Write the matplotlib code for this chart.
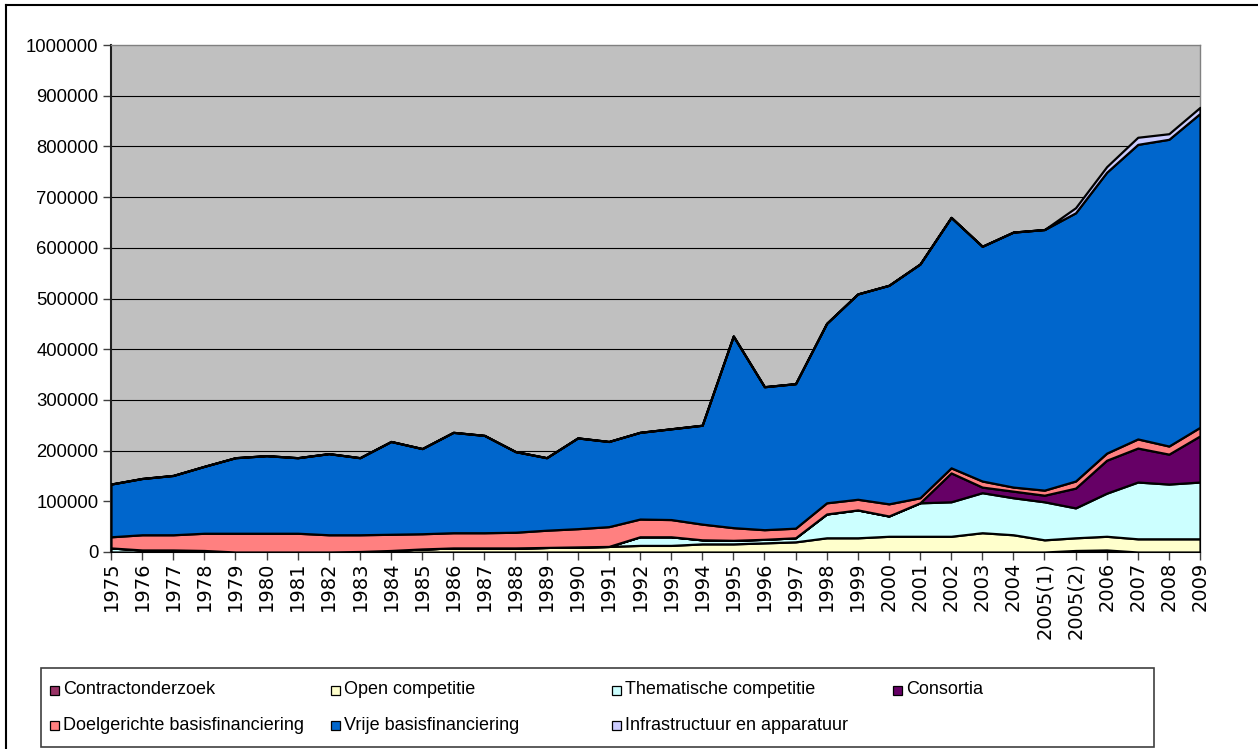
import matplotlib
matplotlib.use("Agg")
import matplotlib.pyplot as plt
from matplotlib.patches import Rectangle
from matplotlib.lines import Line2D
import numpy as np

categories = [str(y) for y in range(1975, 2005)] + ["2005(1)", "2005(2)", "2006", "2007", "2008", "2009"]

contract = [0, 0, 0, 0, 0, 0, 0, 0, 0, 0, 0, 0, 0, 0, 0, 0, 0, 0, 0, 0, 0, 0, 0, 0, 0, 0, 0, 0, 0, 0,
            0, 3000, 4000, 0, 0, 0]
open_comp = [0, 0, 0, 0, 0, 0, 0, 0, 1000, 3000, 6000, 8000, 8000, 8000, 9000, 10000, 11000, 13000, 13000, 16000,
             16000, 18000, 20000, 28000, 28000, 31000, 31000, 31000, 38000, 34000,
             24000, 25000, 27000, 26000, 26000, 26000]
thematisch = [8000, 4000, 4000, 3000, 0, 0, 0, 0, 0, 0, 0, 0, 0, 0, 0, 0, 0, 17000, 17000, 8000,
              7000, 7000, 8000, 47000, 55000, 40000, 66000, 68000, 79000, 73000,
              75000, 59000, 85000, 112000, 108000, 112000]
consortia = [0, 0, 0, 0, 0, 0, 0, 0, 0, 0, 0, 0, 0, 0, 0, 0, 0, 0, 0, 0,
             0, 0, 0, 0, 0, 0, 0, 57000, 11000, 13000,
             13000, 39000, 65000, 67000, 59000, 91000]
doelgericht = [22000, 30000, 30000, 34000, 37000, 37000, 37000, 34000, 33000, 32000, 30000, 30000, 30000, 31000,
               34000, 36000, 39000, 35000, 34000, 31000, 25000, 19000, 19000, 22000, 21000, 24000, 10000, 10000,
               12000, 8000, 10000, 14000, 14000, 18000, 16000, 17000]
vrije = [104000, 111000, 117000, 132000, 149000, 153000, 149000, 160000, 152000, 183000, 168000, 198000, 192000,
         159000, 143000, 179000, 168000, 171000, 179000, 195000, 378000, 282000, 285000, 354000, 405000, 431000,
         461000, 494000, 463000, 503000, 514000, 529000, 554000, 581000, 605000, 619000]
infra = [0, 0, 0, 0, 0, 0, 0, 0, 0, 0, 0, 0, 0, 0, 0, 0, 0, 0, 0, 0, 0, 0, 0, 0, 0, 0, 0, 0, 0, 0,
         0, 10000, 11000, 14000, 11000, 12000]

labels = ["Contractonderzoek", "Open competitie", "Thematische competitie", "Consortia",
          "Doelgerichte basisfinanciering", "Vrije basisfinanciering", "Infrastructuur en apparatuur"]
colors = ["#993366", "#FFFFCC", "#CCFFFF", "#660066", "#FF8080", "#0066CC", "#CCCCFF"]

yticks = list(range(0, 1000001, 100000))

W, H = 1258, 749
fig = plt.figure(figsize=(W / 100, H / 100), dpi=100)
fig.patch.set_facecolor("white")

L, R, B, T = 111, 1200, 552, 45
ax = fig.add_axes([L / W, 1 - B / H, (R - L) / W, (B - T) / H])
ax.set_facecolor("#C0C0C0")

x = np.arange(len(categories))
ax.stackplot(x, contract, open_comp, thematisch, consortia, doelgericht, vrije, infra,
             colors=colors, edgecolor="black", linewidth=1.6, zorder=3)

ax.set_xlim(0, len(categories) - 1)
ax.set_ylim(0, 1000000)
ax.set_yticks(yticks)
ax.set_yticklabels([str(v) for v in yticks], fontsize=13.3, family="Liberation Sans")
ax.set_xticks(x)
ax.set_xticklabels(categories, rotation=90, fontsize=14, family="DejaVu Sans", va="top")
ax.tick_params(axis="both", direction="out", length=6, width=1, color="#404040")
ax.tick_params(axis="x", pad=1)
ax.tick_params(axis="y", pad=3)
for v in yticks[1:-1]:
    ax.axhline(v, color="black", linewidth=0.8, zorder=1)
for s in ["top", "right"]:
    ax.spines[s].set_color("#808080")
    ax.spines[s].set_linewidth(1)
for s in ["left", "bottom"]:
    ax.spines[s].set_color("#202020")
    ax.spines[s].set_linewidth(1.5)
ax.spines["top"].set_zorder(5)

# outer chart border (top and left visible)
fig.add_artist(Line2D([6 / W, 1], [1 - 5 / H, 1 - 5 / H], color="black", linewidth=1.5, transform=fig.transFigure))
fig.add_artist(Line2D([6 / W, 6 / W], [1 - 5 / H, 0], color="black", linewidth=1.5, transform=fig.transFigure))

# legend box
lx0, ly0, lx1, ly1 = 41, 668, 1154, 747
fig.add_artist(Rectangle((lx0 / W, 1 - ly1 / H), (lx1 - lx0) / W, (ly1 - ly0) / H,
                         transform=fig.transFigure, facecolor="white", edgecolor="#404040", linewidth=1.2))
colx = [50, 331, 612, 893]
rowy = [690, 725]
positions = [(colx[0], rowy[0]), (colx[1], rowy[0]), (colx[2], rowy[0]), (colx[3], rowy[0]),
             (colx[0], rowy[1]), (colx[1], rowy[1]), (colx[2], rowy[1])]
msz = 9
for (px, py), lab, col in zip(positions, labels, colors):
    fig.add_artist(Rectangle((px / W, 1 - (py + msz / 2) / H), msz / W, msz / H,
                             transform=fig.transFigure, facecolor=col, edgecolor="black", linewidth=0.9))
    fig.text((px + msz + 4) / W, 1 - py / H, lab, fontsize=13, family="Liberation Sans",
             va="center", ha="left")

fig.savefig("out.png", dpi=100)
